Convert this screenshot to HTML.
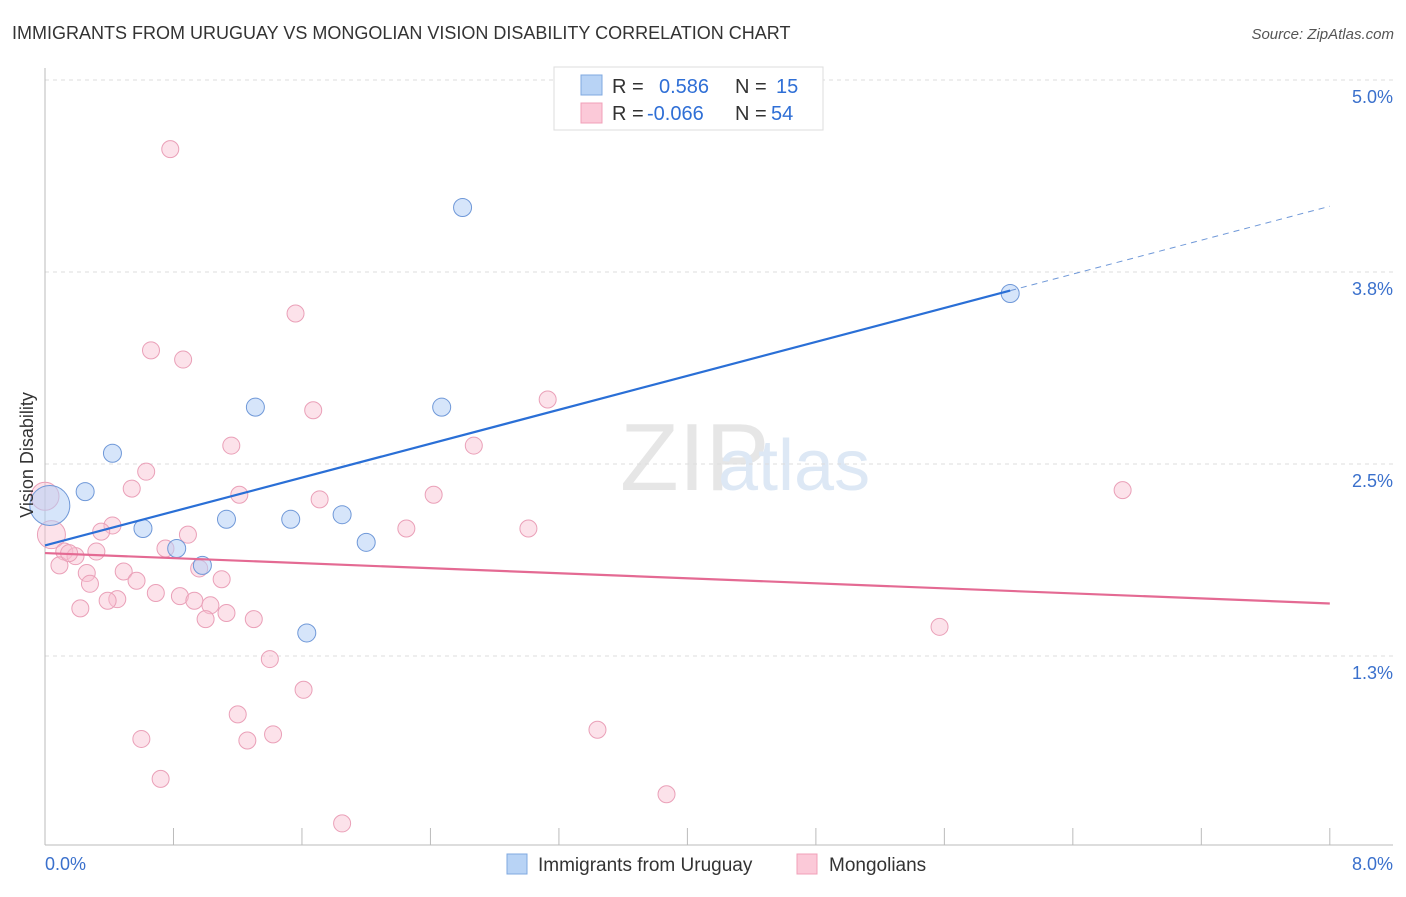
<!DOCTYPE html>
<html><head><meta charset="utf-8"><style>
body{margin:0;background:#fff;font-family:"Liberation Sans",sans-serif;}
svg text{font-family:"Liberation Sans",sans-serif;}
</style></head><body>
<svg id="chart" width="1406" height="892">
<text x="12" y="39" font-size="18" fill="#333">IMMIGRANTS FROM URUGUAY VS MONGOLIAN VISION DISABILITY CORRELATION CHART</text>
<text x="1394" y="39" font-size="15" fill="#555" text-anchor="end" font-style="italic">Source: ZipAtlas.com</text>
<text x="620" y="490" font-size="96" fill="#e6e6e6" font-family="Liberation Serif">ZIP</text>
<text x="718" y="490" font-size="72" fill="#dde8f5">atlas</text>
<g id="grid"></g>
<g id="axes"></g>
<g id="marks"></g>
<text x="33" y="455" font-size="18" fill="#333" text-anchor="middle" transform="rotate(-90 33 455)">Vision Disability</text>
<g>
<rect x="554" y="67" width="269" height="63" fill="#fff" stroke="#ddd"/>
<rect x="581" y="75" width="21" height="20" fill="#b8d3f5" stroke="#7fa8e0"/>
<rect x="581" y="103" width="21" height="20" fill="#fbc9d8" stroke="#f0a0b8"/>
<text x="612" y="93" font-size="20" fill="#333">R =</text>
<text x="659" y="93" font-size="20" fill="#2f6fd6">0.586</text>
<text x="735" y="93" font-size="20" fill="#333">N =</text>
<text x="776" y="93" font-size="20" fill="#2f6fd6">15</text>
<text x="612" y="120" font-size="20" fill="#333">R =</text>
<text x="647" y="120" font-size="20" fill="#2f6fd6">-0.066</text>
<text x="735" y="120" font-size="20" fill="#333">N =</text>
<text x="771" y="120" font-size="20" fill="#2f6fd6">54</text>
</g>
<g>
<rect x="507" y="854" width="20" height="20" fill="#b8d3f5" stroke="#7fa8e0"/>
<text x="538" y="871" font-size="19" fill="#333">Immigrants from Uruguay</text>
<rect x="797" y="854" width="20" height="20" fill="#fbc9d8" stroke="#f0a0b8"/>
<text x="829" y="871" font-size="19" fill="#333">Mongolians</text>
</g>
</svg>
<script>
const yTicks=[5.0,3.75,2.5,1.25];
const yTickLabels=["5.0%","3.8%","2.5%","1.3%"];
const xTicks=[0,0.8,1.6,2.4,3.2,4.0,4.8,5.6,6.4,7.2,8.0];
const blueX=[0.03,0.25,0.42,0.61,0.82,0.98,1.13,1.31,1.53,1.63,1.85,2.0,2.47,2.6,6.01];
const blueY=[2.23,2.32,2.57,2.08,1.95,1.84,2.14,2.87,2.14,1.40,2.17,1.99,2.87,4.17,3.61];
const blueR=[20,9,9,9,9,9,9,9,9,9,9,9,9,9,9];
const pinkX=[0.78,1.56,0.66,0.86,1.67,3.13,1.16,2.67,0.63,0.54,1.21,2.42,6.71,1.71,0.42,0.35,0.89,2.25,3.01,0.04,0.75,0.12,0.32,0.19,0.09,0.96,0.26,0.49,0.57,1.10,0.28,0.69,0.84,0.45,0.39,0.93,1.03,0.22,1.13,1.00,1.30,5.57,1.40,1.61,1.20,0.60,1.26,1.42,3.44,0.72,3.87,1.85,0.0,0.15];
const pinkY=[4.55,3.48,3.24,3.18,2.85,2.92,2.62,2.62,2.45,2.34,2.30,2.30,2.33,2.27,2.10,2.06,2.04,2.08,2.08,2.04,1.95,1.93,1.93,1.90,1.84,1.82,1.79,1.80,1.74,1.75,1.72,1.66,1.64,1.62,1.61,1.61,1.58,1.56,1.53,1.49,1.49,1.44,1.23,1.03,0.87,0.71,0.70,0.74,0.77,0.45,0.35,0.16,2.29,1.92];
const blueTrend=[1.97,0.276];
const pinkTrend=[1.92,-0.041];
const NS="http://www.w3.org/2000/svg";
const X=v=>45+v*160.6, Y=v=>80+(5-v)*153.6;
function mk(tag,attrs,parent){const e=document.createElementNS(NS,tag);for(const k in attrs)e.setAttribute(k,attrs[k]);document.getElementById(parent).appendChild(e);return e;}
yTicks.forEach((t,i)=>{
 const l=mk('line',{x1:45,x2:1393,y1:Y(t),y2:Y(t),stroke:'#ddd','stroke-dasharray':'4,4'},'grid');
 
 
 const tx=mk('text',{x:1393,y:Y(t)+23,'font-size':18,fill:'#3a70cc','text-anchor':'end'},'axes');tx.textContent=yTickLabels[i];
 
 
});
const ax=mk('line',{x1:45,x2:45,y1:68,y2:845,stroke:'#bbb'},'axes');


const bx=mk('line',{x1:45,x2:1393,y1:845,y2:845,stroke:'#bbb'},'axes');


xTicks.forEach(t=>{const l=mk('line',{x1:X(t),x2:X(t),y1:828,y2:845,stroke:'#bbb'},'axes');
 
 });
const x0=mk('text',{x:45,y:870,'font-size':18,fill:'#3a70cc'},'axes');x0.textContent='0.0%';


const x1=mk('text',{x:1393,y:870,'font-size':18,fill:'#3a70cc','text-anchor':'end'},'axes');x1.textContent='8.0%';


pinkX.forEach((v,i)=>{const c=mk('circle',{cx:X(v),cy:Y(pinkY[i]),r:(i==19||i==52)?14:8.5,fill:'rgba(248,190,208,0.45)',stroke:'#eaa0b8','stroke-width':1},'marks');
 
 });
blueX.forEach((v,i)=>{const c=mk('circle',{cx:X(v),cy:Y(blueY[i]),r:blueR[i],fill:'rgba(180,208,245,0.55)',stroke:'#6f98d8','stroke-width':1},'marks');
 
 });
const bl=mk('line',{x1:X(0),y1:Y(blueTrend[0]),x2:X(6.01),y2:Y(blueTrend[0]+blueTrend[1]*6.01),stroke:'#2a6fd6','stroke-width':2.2},'marks');


const bd=mk('line',{x1:X(6.01),y1:Y(blueTrend[0]+blueTrend[1]*6.01),x2:X(8),y2:Y(blueTrend[0]+blueTrend[1]*8),stroke:'#6f98d8','stroke-width':1,'stroke-dasharray':'6,5'},'marks');


const pl=mk('line',{x1:X(0),y1:Y(pinkTrend[0]),x2:X(8),y2:Y(pinkTrend[0]+pinkTrend[1]*8),stroke:'#e46a93','stroke-width':2.2},'marks');


</script>
</body></html>
